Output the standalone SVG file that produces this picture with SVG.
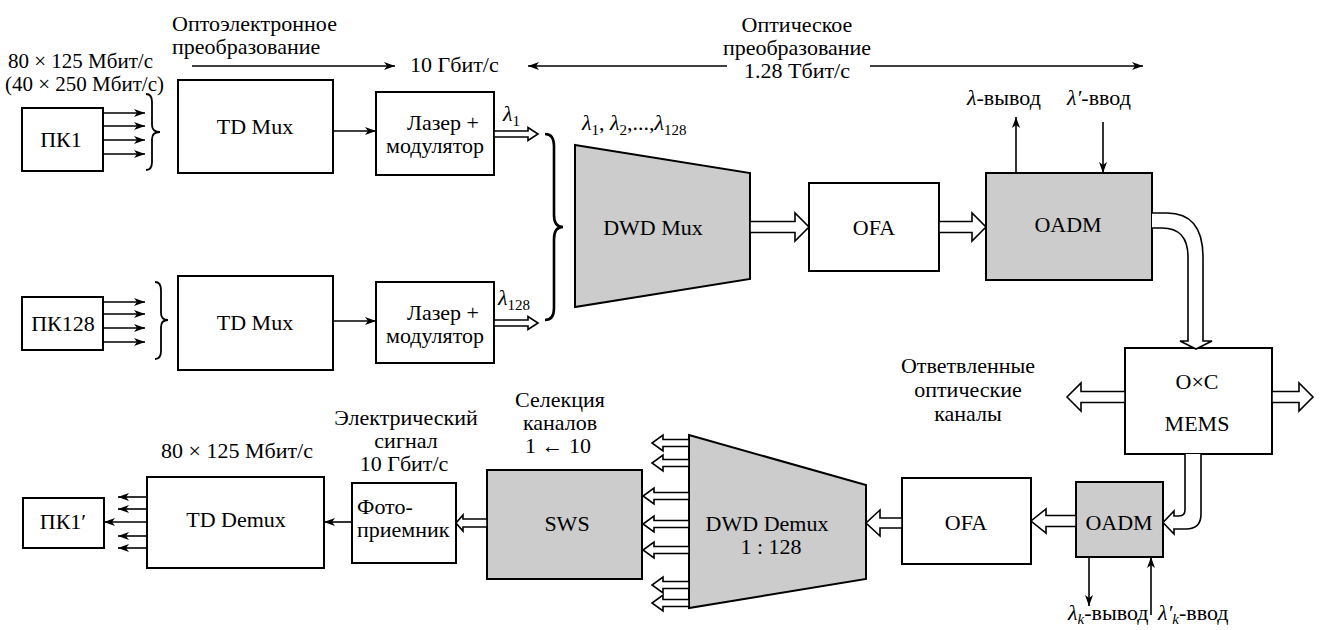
<svg xmlns="http://www.w3.org/2000/svg" width="1320" height="630" viewBox="0 0 1320 630">
<style>
text{font-family:'Liberation Serif','DejaVu Serif',serif;font-size:22px;fill:#000}
.m{text-anchor:middle}
.box{fill:#fff;stroke:#000;stroke-width:2}
.g{fill:#cccccc;stroke:#000;stroke-width:2}
.ln{fill:none;stroke:#000;stroke-width:1.6}
.hol{fill:#fff;stroke:#000;stroke-width:1.6;stroke-linejoin:miter}
.br{fill:none;stroke:#000;stroke-width:1.8}
.i{font-style:italic}
.s{font-size:15px}
.t{font-size:21px}
</style>
<defs>
<marker id="ah" markerUnits="userSpaceOnUse" markerWidth="12" markerHeight="10" refX="11" refY="4" orient="auto">
<path d="M0,0 L11,4 L0,8 L3,4 Z" fill="#000"/>
</marker>
</defs>
<rect width="1320" height="630" fill="#fff"/>

<g id="labels" font-family="Liberation Serif, DejaVu Serif, serif">
<text x="172" y="31">Оптоэлектронное</text>
<text x="172" y="54">преобразование</text>
<text class="t" x="8" y="68">80 × 125 Мбит/с</text>
<text class="t" x="5" y="91">(40 × 250 Мбит/с)</text>
<text x="410" y="72">10 Гбит/с</text>
<text class="m" x="797" y="32">Оптическое</text>
<text class="m" x="797" y="55">преобразование</text>
<text class="m" x="797" y="78">1.28 Тбит/с</text>
<text x="582" y="130"><tspan class="i">λ</tspan><tspan class="s" dy="5">1</tspan><tspan dy="-5">, </tspan><tspan class="i">λ</tspan><tspan class="s" dy="5">2</tspan><tspan dy="-5">,...,</tspan><tspan class="i">λ</tspan><tspan class="s" dy="5">128</tspan></text>
<text x="503" y="121"><tspan class="i">λ</tspan><tspan class="s" dy="5">1</tspan></text>
<text x="498" y="305"><tspan class="i">λ</tspan><tspan class="s" dy="5">128</tspan></text>
<text x="967" y="105"><tspan class="i">λ</tspan>-вывод</text>
<text x="1067" y="105"><tspan class="i">λ′</tspan>-ввод</text>
<text class="m" x="968" y="373">Ответвленные</text>
<text class="m" x="968" y="397">оптические</text>
<text class="m" x="968" y="421">каналы</text>
<text class="m" x="406" y="425">Электрический</text>
<text class="m" x="406" y="448">сигнал</text>
<text class="m" x="404" y="471">10 Гбит/с</text>
<text class="m" x="560" y="407">Селекция</text>
<text class="m" x="560" y="430">каналов</text>
<text class="m" x="558" y="453">1 ← 10</text>
<text class="m" x="237" y="458">80 × 125 Мбит/с</text>
<text x="1068" y="620"><tspan class="i">λ</tspan><tspan class="s i" dy="4">k</tspan><tspan dy="-4">-вывод</tspan></text>
<text x="1158" y="620"><tspan class="i">λ′</tspan><tspan class="s i" dy="4">k</tspan><tspan dy="-4">-ввод</tspan></text>
</g>

<g id="pk1"><rect class="box" x="22" y="108" width="81" height="63"/><text class="m" x="61" y="147">ПК1</text></g>
<g id="pk128"><rect class="box" x="22" y="297" width="81" height="53"/><text class="m" x="63" y="331">ПК128</text></g>
<g id="tdmux1"><rect class="box" x="178" y="80" width="155" height="93"/><text class="m" x="255" y="134">TD Mux</text></g>
<g id="tdmux2"><rect class="box" x="178" y="276" width="155" height="94"/><text class="m" x="255" y="330">TD Mux</text></g>
<g id="laser1"><rect class="box" x="376" y="92" width="118" height="83"/><text class="m" x="443" y="130">Лазер +</text><text class="m" x="435" y="153">модулятор</text></g>
<g id="laser2"><rect class="box" x="376" y="282" width="118" height="81"/><text class="m" x="443" y="320">Лазер +</text><text class="m" x="435" y="343">модулятор</text></g>
<g id="dwdmux"><polygon class="g" points="575,145 750,173 750,279 575,307"/><text class="m" x="653" y="235">DWD Mux</text></g>
<g id="ofa1"><rect class="box" x="809" y="183" width="130" height="88"/><text class="m" x="874" y="235">OFA</text></g>
<g id="oadm1"><rect class="g" x="986" y="173" width="166" height="107"/><text class="m" x="1068" y="232">OADM</text></g>
<g id="oxc"><rect class="box" x="1125" y="348" width="147" height="106"/><text class="m" x="1197" y="389">O×C</text><text class="m" x="1197" y="431">MEMS</text></g>
<g id="oadm2"><rect class="g" x="1076" y="482" width="87" height="75"/><text class="m" x="1119" y="530">OADM</text></g>
<g id="ofa2"><rect class="box" x="902" y="478" width="129" height="86"/><text class="m" x="966" y="530">OFA</text></g>
<g id="dwddemux"><polygon class="g" points="689,435 866,485 866,579 689,608"/><text class="m" x="767" y="531">DWD Demux</text><text class="m" x="771" y="554">1 : 128</text></g>
<g id="sws"><rect class="g" x="487" y="470" width="155" height="109"/><text class="m" x="567" y="531">SWS</text></g>
<g id="photo"><rect class="box" x="352" y="483" width="104" height="80"/><text x="357" y="514">Фото-</text><text x="357" y="537">приемник</text></g>
<g id="tddemux"><rect class="box" x="147" y="477" width="177" height="91"/><text class="m" x="236" y="527">TD Demux</text></g>
<g id="pk1p"><rect class="box" x="23" y="498" width="81" height="50"/><text class="m" x="63" y="529">ПК1′</text></g>

<g id="connectors">
<g class="ln" marker-end="url(#ah)">
<line x1="103" y1="113" x2="145" y2="113"/>
<line x1="103" y1="126" x2="145" y2="126"/>
<line x1="103" y1="140" x2="145" y2="140"/>
<line x1="103" y1="154" x2="145" y2="154"/>
<line x1="103" y1="302" x2="145" y2="302"/>
<line x1="103" y1="314" x2="145" y2="314"/>
<line x1="103" y1="328" x2="145" y2="328"/>
<line x1="103" y1="342" x2="145" y2="342"/>
<line x1="333" y1="131" x2="376" y2="131"/>
<line x1="333" y1="321" x2="376" y2="321"/>
<line x1="192" y1="66" x2="395" y2="66"/>
<line x1="727" y1="66" x2="528" y2="66"/>
<line x1="870" y1="66" x2="1143" y2="66"/>
<line x1="1016" y1="173" x2="1016" y2="117"/>
<line x1="1103" y1="122" x2="1103" y2="173"/>
<line x1="1089" y1="557" x2="1089" y2="606"/>
<line x1="1151" y1="615" x2="1151" y2="557"/>
<line x1="352" y1="522" x2="324" y2="522"/>
<line x1="147" y1="497" x2="118" y2="497"/>
<line x1="147" y1="509" x2="118" y2="509"/>
<line x1="147" y1="522" x2="104" y2="522"/>
<line x1="147" y1="536" x2="118" y2="536"/>
<line x1="147" y1="548" x2="118" y2="548"/>
</g>
<g class="br">
<path d="M146,94 Q152,94 152,102 V125 Q152,132 160,132 Q152,132 152,139 V162 Q152,170 146,170"/>
<path d="M155,282 Q161,282 161,290 V313 Q161,320 168,320 Q161,320 161,327 V351 Q161,359 155,359"/>
<path stroke-width="2.6" d="M545,134 Q554,134 554,146 V215 Q554,227 563,227 Q554,227 554,239 V308 Q554,320 545,320"/>
</g>
<polygon class="hol" points="494,131 528,131 528,127.5 538,134 528,140.5 528,137 494,137"/>
<polygon class="hol" points="494,320 528,320 528,316.5 538,323 528,329.5 528,326 494,326"/>
<polygon class="hol" points="750,221.5 795,221.5 795,213 809,227 795,241 795,232.5 750,232.5"/>
<polygon class="hol" points="939,221.5 972,221.5 972,213 986,227 972,241 972,232.5 939,232.5"/>
<path class="hol" d="M1152,213 H1167 Q1203,213 1203,257 V341 H1212 L1196,349 L1180,341 H1188 V257 Q1188,228 1162,228 H1152"/>
<polygon class="hol" points="1125,391.5 1081,391.5 1081,383 1067,397 1081,411 1081,402.5 1125,402.5"/>
<polygon class="hol" points="1272,391.5 1299,391.5 1299,383 1313,397 1299,411 1299,402.5 1272,402.5"/>
<path class="hol" d="M1185,454 V510 Q1185,516 1179,516 H1174 V511 L1163,522.5 L1174,534 V529 H1186 Q1201,529 1201,514 V454"/>
<polygon class="hol" points="1076,515.5 1046,515.5 1046,509 1031,521 1046,533 1046,526.5 1076,526.5"/>
<polygon class="hol" points="902,518 880,518 880,510 866,523 880,536 880,528 902,528"/>
<polygon class="hol" points="689,439.5 663,439.5 663,435 652,443 663,451 663,446.5 689,446.5"/>
<polygon class="hol" points="689,459.5 663,459.5 663,455 652,463 663,471 663,466.5 689,466.5"/>
<polygon class="hol" points="689,492.5 654,492.5 654,488 643,496 654,504 654,499.5 689,499.5"/>
<polygon class="hol" points="689,520.5 654,520.5 654,516 643,524 654,532 654,527.5 689,527.5"/>
<polygon class="hol" points="689,546.5 654,546.5 654,542 643,550 654,558 654,553.5 689,553.5"/>
<polygon class="hol" points="689,581.5 663,581.5 663,577 652,585 663,593 663,588.5 689,588.5"/>
<polygon class="hol" points="689,599.5 663,599.5 663,595 652,603 663,611 663,606.5 689,606.5"/>
<polygon class="hol" points="487,519 463,519 463,515 456,523 463,531 463,527 487,527"/>
</g>
</svg>
